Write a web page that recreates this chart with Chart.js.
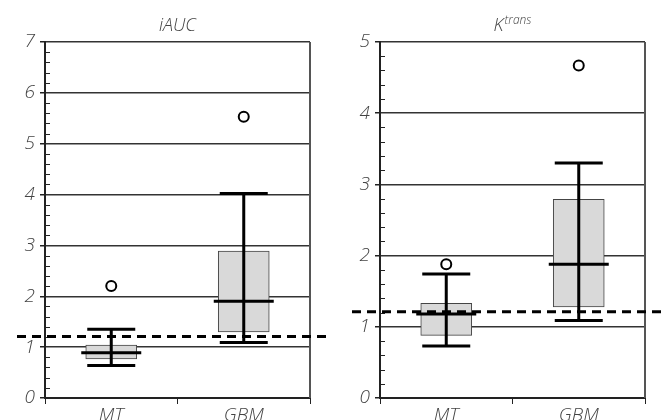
<!DOCTYPE html>
<html>
<head>
<meta charset="utf-8">
<script src="https://cdn.jsdelivr.net/npm/chart.js@4/dist/chart.umd.min.js"></script>
<style>
  html, body { margin: 0; padding: 0; background: #fff; }
  #wrap { position: relative; width: 670px; height: 420px; }
  .panel { position: absolute; top: 0; width: 335px; height: 420px; }
</style>
</head>
<body>
<div id="wrap">
  <div class="panel" style="left:0"><canvas id="c1" width="335" height="420"></canvas></div>
  <div class="panel" style="left:335px"><canvas id="c2" width="335" height="420"></canvas></div>
</div>
<script>
// ---- data ----
const categories = ['MT', 'GBM'];

const iaucQ1 = [0.77, 1.30];
const iaucQ3 = [1.04, 2.89];
const iaucMedian = [0.89, 1.90];
const iaucLow = [0.64, 1.09];
const iaucHigh = [1.35, 4.02];
const iaucOutliers = [2.20, 5.53];
const iaucThreshold = 1.21;
const iaucMax = 7;

const ktransQ1 = [0.88, 1.28];
const ktransQ3 = [1.33, 2.79];
const ktransMedian = [1.18, 1.88];
const ktransLow = [0.73, 1.09];
const ktransHigh = [1.74, 3.30];
const ktransOutliers = [1.88, 4.67];
const ktransThreshold = 1.21;
const ktransMax = 5;

const TEXT = '#444';
const FONT = 'Open Sans';

const boxExtras = {
  id: 'boxExtras',
  afterDatasetsDraw(chart) {
    const o = chart.options.plugins.boxExtras;
    const { ctx, chartArea, scales: { x, y } } = chart;
    const meta = chart.getDatasetMeta(0);
    ctx.save();
    // minor ticks (inside)
    ctx.strokeStyle = '#222';
    ctx.lineWidth = 1;
    const n = Math.round(y.max * 5);
    for (let i = 1; i < n; i++) {
      if (i % 5 === 0) continue;
      const py = Math.round(y.getPixelForValue(i / 5)) + 0.5;
      ctx.beginPath();
      ctx.moveTo(chartArea.left, py);
      ctx.lineTo(chartArea.left + 5, py);
      ctx.stroke();
    }
    // right border
    ctx.strokeStyle = '#555';
    ctx.lineWidth = 2;
    ctx.beginPath();
    ctx.moveTo(chartArea.right, chartArea.top);
    ctx.lineTo(chartArea.right, chartArea.bottom);
    ctx.stroke();
    // whiskers, caps, medians
    ctx.strokeStyle = '#000';
    ctx.lineWidth = 3;
    meta.data.forEach((el, i) => {
      const cx = el.x;
      const yl = y.getPixelForValue(o.low[i]);
      const yh = y.getPixelForValue(o.high[i]);
      const ym = y.getPixelForValue(o.median[i]);
      ctx.beginPath();
      ctx.moveTo(cx, yl); ctx.lineTo(cx, yh);
      ctx.moveTo(cx - 24, yl); ctx.lineTo(cx + 24, yl);
      ctx.moveTo(cx - 24, yh); ctx.lineTo(cx + 24, yh);
      ctx.moveTo(cx - 30, ym); ctx.lineTo(cx + 30, ym);
      ctx.stroke();
    });
    ctx.restore();
  },
  afterDraw(chart) {
    const o = chart.options.plugins.boxExtras;
    const { ctx, chartArea, scales: { y } } = chart;
    ctx.save();
    // threshold dashed line
    const ty = y.getPixelForValue(o.threshold);
    ctx.strokeStyle = '#000';
    ctx.lineWidth = 3;
    ctx.setLineDash([9, 6]);
    ctx.beginPath();
    ctx.moveTo(17, ty);
    ctx.lineTo(chart.width - 7, ty);
    ctx.stroke();
    ctx.setLineDash([]);
    // title
    const cx = (chartArea.left + chartArea.right) / 2;
    ctx.fillStyle = TEXT;
    ctx.textBaseline = 'alphabetic';
    const mainFont = 'italic 300 18px "' + FONT + '"';
    const supFont = 'italic 300 12px "' + FONT + '"';
    ctx.font = mainFont;
    const w1 = ctx.measureText(o.title).width;
    let w2 = 0;
    if (o.sup) { ctx.font = supFont; w2 = ctx.measureText(o.sup).width + 1; }
    const start = cx - (w1 + w2) / 2;
    ctx.font = mainFont;
    ctx.textAlign = 'left';
    ctx.fillText(o.title, start, 31);
    if (o.sup) {
      ctx.font = supFont;
      ctx.fillText(o.sup, start + w1 + 1, 24);
    }
    ctx.restore();
  }
};

function makeChart(id, q1, q3, med, lo, hi, outl, thr, ymax, title, sup) {
  const tickFont = { family: FONT, size: 19, style: 'italic', weight: 300 };
  return new Chart(document.getElementById(id), {
    type: 'bar',
    data: {
      labels: categories,
      datasets: [
        {
          type: 'bar',
          data: categories.map((c, i) => [q1[i], q3[i]]),
          backgroundColor: '#d9d9d9',
          borderColor: '#444',
          borderWidth: 1,
          borderSkipped: false,
          barThickness: 51,
          order: 2
        },
        {
          type: 'line',
          data: outl,
          showLine: false,
          pointStyle: 'circle',
          pointRadius: 5,
          pointBackgroundColor: '#fff',
          pointBorderColor: '#000',
          pointBorderWidth: 2,
          order: 1
        }
      ]
    },
    options: {
      responsive: false,
      devicePixelRatio: 1,
      animation: false,
      layout: { padding: { top: 42, right: 25, left: 0, bottom: 0 } },
      plugins: {
        legend: { display: false },
        tooltip: { enabled: false },
        title: { display: false },
        boxExtras: { low: lo, high: hi, median: med, threshold: thr, title: title, sup: sup }
      },
      scales: {
        x: {
          offset: true,
          grid: { offset: true, drawOnChartArea: false, drawTicks: true, tickLength: 6, tickColor: '#222', lineWidth: 1 },
          border: { display: true, color: '#222', width: 2 },
          ticks: { color: TEXT, font: tickFont, padding: 0 },
          afterFit(scale) { scale.height = 22; }
        },
        y: {
          min: 0,
          max: ymax,
          ticks: { stepSize: 1, color: TEXT, font: tickFont, padding: 5 },
          grid: { color: '#333', lineWidth: 1.5, tickLength: 5, tickColor: '#222' },
          border: { display: true, color: '#222', width: 2 },
          afterFit(scale) { scale.width = 45; }
        }
      }
    },
    plugins: [boxExtras]
  });
}

makeChart('c1', iaucQ1, iaucQ3, iaucMedian, iaucLow, iaucHigh, iaucOutliers, iaucThreshold, iaucMax, 'iAUC', '');
makeChart('c2', ktransQ1, ktransQ3, ktransMedian, ktransLow, ktransHigh, ktransOutliers, ktransThreshold, ktransMax, 'K', 'trans');
</script>
</body>
</html>
